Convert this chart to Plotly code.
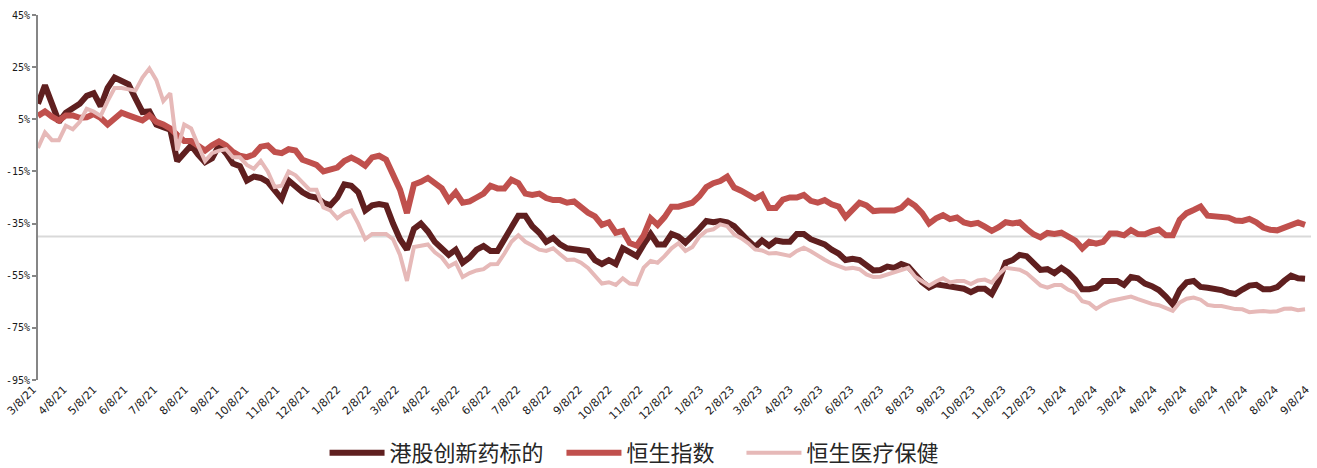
import plotly.graph_objects as go
import pandas as pd

# weekly observation dates (from 2021-03-08)
start_date = "2021-03-08"
n_weeks = 183
dates = pd.date_range(start_date, periods=n_weeks, freq="7D")

names = ["港股创新药标的", "恒生指数", "恒生医疗保健"]

# cumulative return, %
innov = [
    11, 18, 11, 4, 7.5, 9, 11, 14, 15, 10,
    17, 21, 20, 18.4, 13, 7.8, 8, 3, 2, 1,
    -11, -8, -5, -8.5, -11.5, -10, -5, -8, -12, -13,
    -18.5, -17, -17.5, -19, -22, -25.5, -18.5, -21, -23, -24.5,
    -25, -27, -28, -25, -20, -20.5, -23, -30, -28, -27.5,
    -28, -35, -41, -45, -37, -35, -38, -42, -44.5, -47,
    -45, -50, -48, -45, -43.6, -45.5, -45.5, -41, -36.5, -32,
    -32, -36, -38.5, -42, -40.5, -43, -44.5, -45, -45.5, -45.5,
    -49, -50.5, -49, -50.5, -44.5, -46, -47.5, -43, -39, -43,
    -43, -39, -40, -42.3, -40, -37, -34, -34.5, -34, -34.5,
    -36, -39, -41.5, -44, -41.5, -43.5, -41.5, -42, -42, -39,
    -39, -41, -42, -43, -45, -46.5, -49, -48.5, -49, -51,
    -53,
    -52.8, -51.5, -52, -50.5, -51.5, -54.5, -57.5, -59.5, -58.3, -58.7,
    -59.3, -59.6, -60, -61.3, -60, -60, -62, -57, -50, -49,
    -47, -47.5, -50.5, -52.8, -52.5, -54, -52, -53.8, -56.5, -60.2,
    -60.2, -59.6, -57, -57, -57, -58.5, -55.5, -56, -58, -59,
    -60.5, -63, -66, -60.5, -57.5, -57, -59.3, -59.6, -60, -60.5,
    -61.5, -62, -60.3, -58.8, -58.5, -60.2, -60.2, -59.4, -57, -55,
    -56, -56.2,
]

hsi = [
    6.3, 8, 6, 4.5, 6.5, 6.5, 5.6, 5.8, 7, 5.5,
    3, 5.5, 7.5, 6.5, 5.8, 4.6, 6.5, 4, 3, 1.5,
    -1, -3.3, -3.3, -5, -7, -5, -3.5, -5, -7.5, -9,
    -9.5, -8.5, -5.5, -5, -7.5, -8, -6.5, -7, -10.5, -11.5,
    -12.5, -15, -14, -13.5, -11, -9.7, -11, -12.8, -9.6, -9,
    -10.5, -16, -22, -31, -20, -19, -17.5, -19.5, -21.5, -26,
    -23, -27, -26.5, -25, -23.5, -20.5, -21.5, -21.5, -18.2, -19.5,
    -23.5, -24, -23.5, -25.2, -26, -26, -27, -26.5, -29, -30.8,
    -32.2, -35.5, -34.5, -38.5, -37.8, -42.5, -43.5, -39.5, -33, -35.5,
    -32.5, -28.5, -28.5, -28, -27, -24.5, -21, -19.5, -18.7, -17,
    -21.2, -22.4, -24, -25.4, -24, -29, -29, -25.8, -25, -25,
    -24, -26.3, -27, -26, -27.6, -28.5, -32.5, -30, -27, -28,
    -30.2,
    -30, -30, -30, -29, -26.4, -28.2, -31, -35, -33, -31.8,
    -33.3, -32.7, -34.6, -35.2, -34.7, -36.2, -37.8, -36.4, -34.5, -35,
    -34.5, -37, -39.1, -40.3, -38.6, -39, -38.5, -40, -41.5, -44.5,
    -42, -42.7, -42, -38.8, -38.8, -39.5, -37.5, -39, -39.1, -38,
    -37.3, -39.5, -39.5, -33.5, -31, -29.8, -28.5, -32, -32.2, -32.5,
    -32.7, -33.8, -34, -33.2, -34.5, -36.5, -37.4, -37.6, -36.4, -35.4,
    -34.6, -35.5,
]

hshc = [
    -6, 0, -3, -3, 2.5, 1.2, 4, 9, 8, 6.3,
    12, 17, 17, 16.5, 16, 21, 24.5, 20, 12, 15,
    -7, 3, 1.5, -5, -11, -8, -7, -6.5, -9.6, -9.6,
    -12.5, -14, -11, -15, -21, -20.5, -15, -16.5, -19.5, -22,
    -22, -28.8, -30, -33, -31, -30, -35, -41, -39, -39,
    -39, -41, -47, -57, -44, -43.5, -43, -46, -48, -51.5,
    -50, -55.5, -54, -53, -52.5, -50.6, -50.5, -46.5, -42, -39.5,
    -42, -43.4, -45, -45.5, -44.5, -46.8, -49, -48.8, -50, -52,
    -55, -58, -57.5, -58.5, -56, -58, -58.3, -51.9, -49.3, -50,
    -47.5, -44.5, -42.5, -45.5, -44, -40, -37.8, -37.2, -35.3, -36,
    -39.2, -40.6, -42.5, -44.9, -45.3, -46.5, -46.3, -47, -47.4, -45.5,
    -44.3, -45.6, -47.4, -48.9, -50.3, -51.2, -52.3, -52, -52.5, -54.5,
    -55.5,
    -55.4, -54.5, -53.8, -52.8, -52, -55.4, -57, -58.8, -57.2, -56,
    -57.6, -57, -57, -58.2, -56.8, -56.5, -57.6, -54.5, -52, -52.2,
    -52.7, -54, -56.4, -58.7, -59.6, -58.6, -58.6, -60.4, -61.5, -64.8,
    -65.5, -67.7, -66, -64.7, -64.1, -63.6, -63, -64, -65, -65.8,
    -66.3, -67.5, -68.5, -65.3, -63.8, -63.4, -64.2, -66.2, -66.6, -66.6,
    -67.2, -67.8, -67.9, -69, -68.7, -68.5, -68.8, -68.6, -67.7, -67.6,
    -68.2, -67.9,
]

y_ticks = [-95, -75, -55, -35, -15, 5, 25, 45]
axis_cross = -40
x_range = ["2021-03-08", "2024-09-08"]

colors = ["#5F1F1F", "#C0504D", "#E6B9B8"]
widths = [6, 6, 4]
legend_ids = ["legend", "legend2", "legend3"]
legend_x = [0.2251, 0.4112, 0.5526]

fig = go.Figure()
for nm, vals, c, w, lg in zip(names, [innov, hsi, hshc], colors, widths, legend_ids):
    fig.add_trace(go.Scatter(x=dates, y=vals, mode="lines", name=nm,
                             line=dict(color=c, width=w), legend=lg))

fig.add_shape(type="line", xref="paper", x0=0, x1=1, yref="y",
              y0=axis_cross, y1=axis_cross,
              line=dict(color="#D9D9D9", width=2), layer="below")

legend_font = dict(family="Noto Sans CJK SC", size=22, color="#262626")
legend_common = dict(orientation="h", xanchor="left", y=-0.2575,
                     yanchor="bottom", font=legend_font, itemwidth=55,
                     bgcolor="rgba(0,0,0,0)")

fig.update_layout(
    width=1317, height=476,
    margin=dict(l=38, r=6, t=15, b=96, autoexpand=False),
    paper_bgcolor="white", plot_bgcolor="white",
    showlegend=True,
    legend=dict(x=legend_x[0], **legend_common),
    legend2=dict(x=legend_x[1], **legend_common),
    legend3=dict(x=legend_x[2], **legend_common),
    xaxis=dict(type="date", range=x_range, tick0="2021-03-08", dtick="M1",
               tickformat="%-m/%-d/%y", tickangle=-45, showgrid=False,
               showline=False, zeroline=False, ticks="",
               ticklabelshift=-5,
               tickfont=dict(family="DejaVu Sans", size=11, color="#1a1a1a")),
    yaxis=dict(range=[-95, 45], tickvals=y_ticks,
               ticktext=[f"{v}%" for v in y_ticks],
               showgrid=False, zeroline=False, showline=True,
               linecolor="#868686", linewidth=2, ticks="outside", ticklen=4,
               tickcolor="#868686", tickwidth=1.5,
               tickfont=dict(family="DejaVu Sans Mono", size=10, color="#1a1a1a")),
)

fig.write_html("out.html", config={"displayModeBar": False},
               post_script="document.body.style.margin='0';document.body.style.overflow='hidden';")
